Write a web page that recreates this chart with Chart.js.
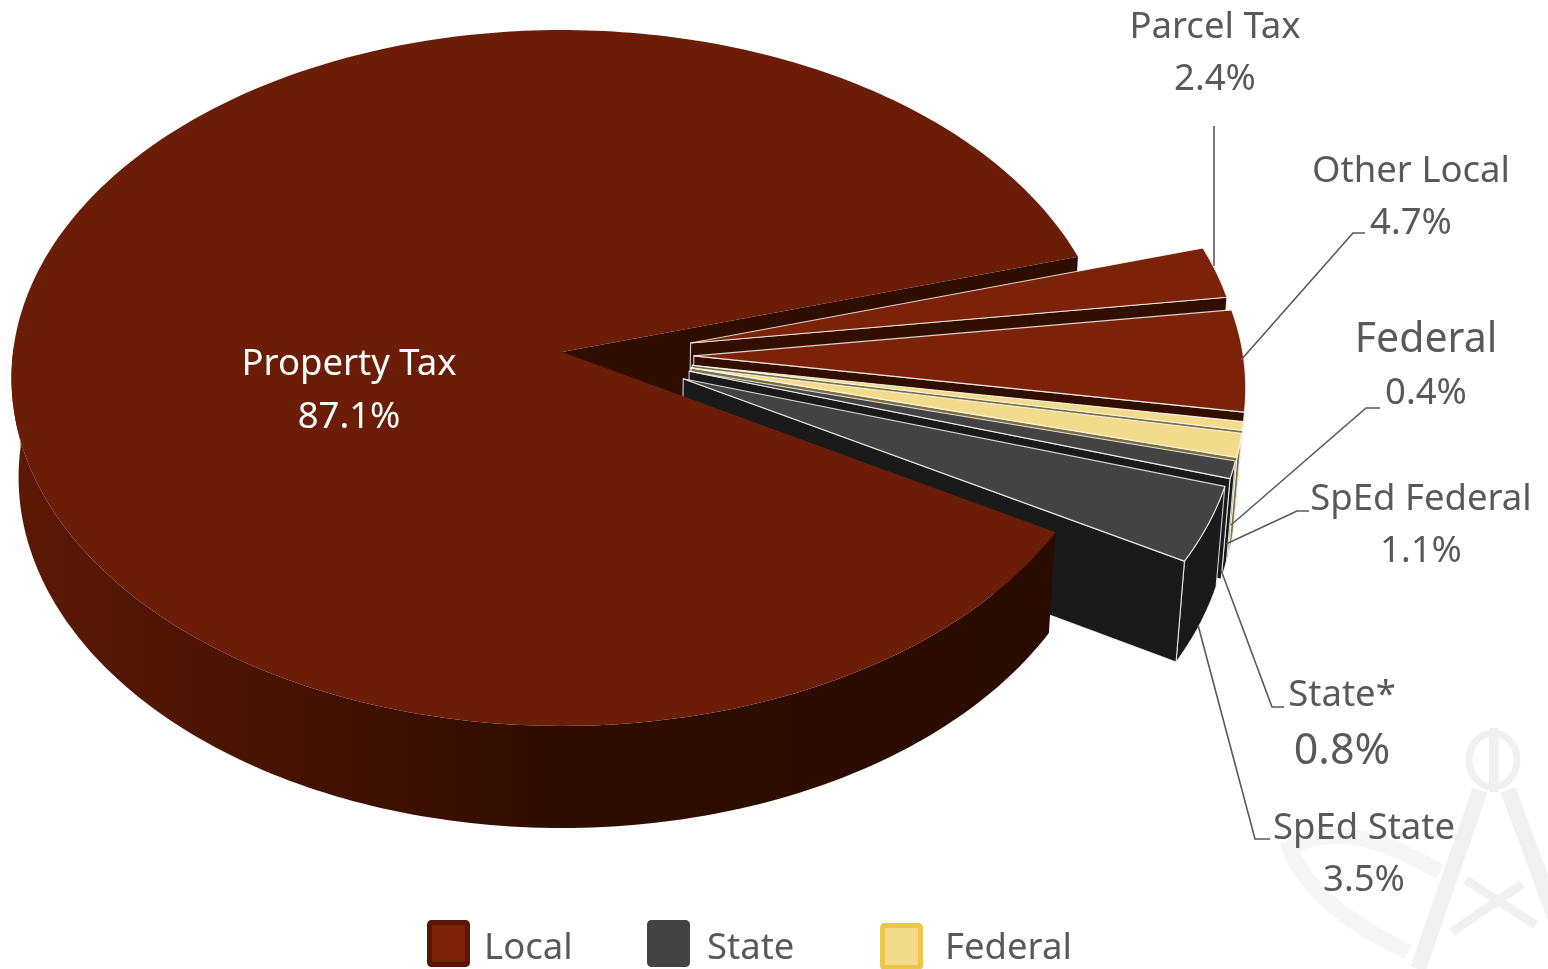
<!DOCTYPE html>
<html>
<head>
<meta charset="utf-8">
<title>Revenue by source</title>
<script src="https://cdn.jsdelivr.net/npm/chart.js@4"></script>
<style>
  html, body { margin: 0; background: #fff; overflow: hidden; height: 969px; }
  #wrap { width: 1548px; height: 969px; position: relative; }
</style>
</head>
<body>
<div id="wrap"><canvas id="myChart"></canvas></div>
<script>
const sources = ['Property Tax', 'Parcel Tax', 'Other Local', 'Federal', 'SpEd Federal', 'State*', 'SpEd State'];
const shares = [87.1, 2.4, 4.7, 0.4, 1.1, 0.8, 3.5];
const groups = ['Local', 'State', 'Federal'];

const FONT = '"Noto Sans", sans-serif';
const TEXT = '#595959';

// one camera for the whole disc: u,v lie in the pie plane, h goes down the thickness
const cam = { cx: 562, cy: 352, a: 549, b: 346, c: 100.6, k: 0.0747, m: 0.013 };

function project(u, v, h) {
    const w = 1 - cam.k * v + cam.m * h;
    return [cam.cx + cam.a * u / w, cam.cy + (cam.b * v + cam.c * h) / w];
}

function tracePath(ctx, pts) {
    ctx.beginPath();
    pts.forEach((p, i) => i ? ctx.lineTo(p[0], p[1]) : ctx.moveTo(p[0], p[1]));
    ctx.closePath();
}

// slice corners in plane coordinates, pulled out along the mid angle
function sliceGeometry(arc, explode) {
    const { startAngle, endAngle } = arc.getProps(['startAngle', 'endAngle']);
    const mid = (startAngle + endAngle) / 2;
    const ox = explode * Math.cos(mid);
    const oy = explode ? 0.7 * explode * Math.sin(mid) + 0.009 : 0;
    const steps = Math.max(2, Math.ceil((endAngle - startAngle) * 180 / Math.PI));
    const rim = [];
    for (let i = 0; i <= steps; i++) {
        const t = startAngle + (endAngle - startAngle) * i / steps;
        rim.push({ t, u: ox + Math.cos(t), v: oy + Math.sin(t) });
    }
    return { ox, oy, rim };
}

function drawCutWall(ctx, g, fill, outlined) {
    const tip = g.rim[g.rim.length - 1];
    tracePath(ctx, [
        project(g.ox, g.oy, 0), project(tip.u, tip.v, 0),
        project(tip.u, tip.v, 1), project(g.ox, g.oy, 1)
    ]);
    ctx.fillStyle = fill;
    ctx.fill();
    if (outlined) ctx.stroke();
}

function drawRimWall(ctx, g, fill, outlined) {
    const front = g.rim.filter(r => Math.sin(r.t) > -0.02);
    if (front.length < 2) return;
    const upper = front.map(r => project(r.u, r.v, 0));
    const lower = front.map(r => project(r.u, r.v, 1)).reverse();
    tracePath(ctx, upper.concat(lower));
    ctx.fillStyle = fill;
    ctx.fill();
    if (outlined) ctx.stroke();
}

function drawTop(ctx, g, fill, outlined) {
    const pts = [project(g.ox, g.oy, 0)].concat(g.rim.map(r => project(r.u, r.v, 0)));
    tracePath(ctx, pts);
    ctx.fillStyle = fill;
    ctx.fill();
    if (outlined) ctx.stroke();
}

const pie3d = {
    id: 'pie3d',
    beforeDatasetsDraw(chart) {
        const ctx = chart.ctx;
        const ds = chart.data.datasets[0];
        const arcs = chart.getDatasetMeta(0).data;
        const geo = arcs.map((arc, i) => sliceGeometry(arc, ds.explode[i]));

        ctx.save();
        ctx.lineJoin = 'round';
        ctx.strokeStyle = 'rgba(255,255,255,0.8)';
        ctx.lineWidth = 1.1;

        // back to front: cut face of the main slice, pulled slices, then its rim
        drawCutWall(ctx, geo[0], ds.wallColor[0], false);
        for (let i = 1; i < arcs.length; i++) {
            drawRimWall(ctx, geo[i], ds.wallColor[i], true);
            drawCutWall(ctx, geo[i], ds.wallColor[i], true);
        }
        const rimShade = ctx.createLinearGradient(15, 0, 1050, 0);
        rimShade.addColorStop(0, '#5c1805');
        rimShade.addColorStop(0.2, '#4c1403');
        rimShade.addColorStop(0.52, '#2f0d01');
        rimShade.addColorStop(1, '#2a0b00');
        drawRimWall(ctx, geo[0], rimShade, false);

        arcs.forEach((arc, i) => drawTop(ctx, geo[i], ds.backgroundColor[i], i > 0));
        ctx.restore();
        return false;
    }
};

// faint crest printed behind the lower right labels
const crest = {
    id: 'crest',
    beforeDraw(chart) {
        const ctx = chart.ctx;
        ctx.save();
        ctx.strokeStyle = '#f1f1f1';
        ctx.lineCap = 'butt';
        ctx.lineWidth = 7;
        ctx.beginPath();
        ctx.ellipse(1493, 760, 24, 27, 0, 0, Math.PI * 2);
        ctx.stroke();
        ctx.lineWidth = 10;
        ctx.beginPath();
        ctx.moveTo(1494, 728); ctx.lineTo(1494, 792);
        ctx.stroke();
        ctx.lineWidth = 16;
        ctx.beginPath();
        ctx.moveTo(1480, 790); ctx.lineTo(1418, 969);
        ctx.moveTo(1508, 790); ctx.lineTo(1560, 930);
        ctx.stroke();
        ctx.lineWidth = 9;
        ctx.beginPath();
        ctx.moveTo(1466, 880); ctx.lineTo(1536, 925);
        ctx.moveTo(1452, 932); ctx.lineTo(1522, 884);
        ctx.stroke();
        ctx.strokeStyle = '#f6f6f6';
        ctx.lineWidth = 16;
        ctx.beginPath();
        ctx.moveTo(1440, 872);
        ctx.quadraticCurveTo(1345, 815, 1290, 848);
        ctx.quadraticCurveTo(1310, 905, 1408, 952);
        ctx.stroke();
        ctx.restore();
    }
};

// label placement and leader runs, one entry per slice
const labelStyle = [
    { x: 349, y: 365, dy: 53, color: '#ffffff' },
    { x: 1215, y: 28, dy: 52, leader: [[1214, 126], [1214, 266]] },
    { x: 1411, y: 172, dy: 52, leader: [[1365, 233], [1353, 233], [1241, 360]] },
    { x: 1426, y: 340, dy: 54, nameSize: 41, leader: [[1380, 408], [1366, 408], [1231, 525]] },
    { x: 1421, y: 500, dy: 52, leader: [[1309, 511], [1297, 511], [1226, 544]] },
    { x: 1342, y: 696, dy: 56, valueSize: 43, leader: [[1284, 707], [1272, 707], [1221, 570]] },
    { x: 1364, y: 829, dy: 52, leader: [[1270, 839], [1255, 839], [1198, 625]] }
];

const calloutLabels = {
    id: 'calloutLabels',
    afterDraw(chart) {
        const ctx = chart.ctx;
        ctx.save();
        ctx.textAlign = 'center';
        ctx.textBaseline = 'middle';
        labelStyle.forEach((s, i) => {
            if (s.leader) {
                ctx.strokeStyle = TEXT;
                ctx.lineWidth = 1.6;
                ctx.beginPath();
                s.leader.forEach((p, j) => j ? ctx.lineTo(p[0], p[1]) : ctx.moveTo(p[0], p[1]));
                ctx.stroke();
            }
            ctx.fillStyle = s.color || TEXT;
            ctx.font = `${s.nameSize || 36.5}px ${FONT}`;
            ctx.fillText(sources[i], s.x, s.y);
            ctx.font = `${s.valueSize || 36.5}px ${FONT}`;
            ctx.fillText(shares[i].toFixed(1) + '%', s.x, s.y + s.dy);
        });
        ctx.restore();
    }
};

// the swatches sit at uneven gaps, so the legend is laid out by hand
const legendItems = [
    { box: 427, top: 920, text: 484, fill: '#7b2209', edge: '#591604' },
    { box: 647, top: 920, text: 707, fill: '#434343', edge: '#434343' },
    { box: 880, top: 923, text: 945, fill: '#f2dc8c', edge: '#ecc648' }
];

const groupLegend = {
    id: 'groupLegend',
    afterDraw(chart) {
        const ctx = chart.ctx;
        ctx.save();
        ctx.textBaseline = 'middle';
        ctx.font = `36.5px ${FONT}`;
        legendItems.forEach((item, i) => {
            ctx.beginPath();
            ctx.roundRect(item.box + 2.5, item.top + 2.5, 38, 42, 2);
            ctx.fillStyle = item.fill;
            ctx.fill();
            ctx.strokeStyle = item.edge;
            ctx.lineWidth = 5;
            ctx.stroke();
            ctx.fillStyle = TEXT;
            ctx.fillText(groups[i], item.text, 949);
        });
        ctx.restore();
    }
};

new Chart(document.getElementById('myChart').getContext('2d'), {
    type: 'pie',
    data: {
        labels: sources,
        datasets: [{
            data: shares,
            explode: [0, 0.24, 0.24, 0.24, 0.24, 0.24, 0.24],
            backgroundColor: ['#6c1d08', '#7b2209', '#7b2209', '#f2dc8c', '#f2dc8c', '#434343', '#434343'],
            wallColor: ['#2f0e00', '#320e00', '#320e00', '#7d7040', '#7d7040', '#1a1a1a', '#1a1a1a']
        }]
    },
    options: {
        responsive: true,
        maintainAspectRatio: false,
        animation: false,
        rotation: 120.1,
        plugins: {
            tooltip: { enabled: false },
            legend: { display: false }
        }
    },
    plugins: [crest, pie3d, calloutLabels, groupLegend]
});
</script>
</body>
</html>
